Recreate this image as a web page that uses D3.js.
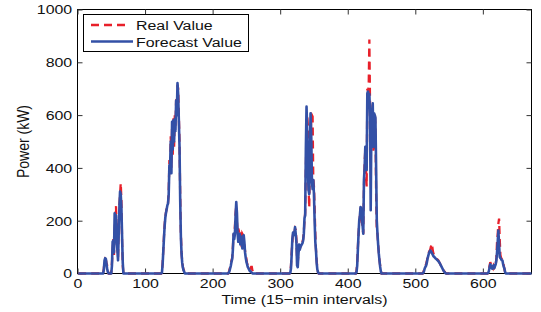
<!DOCTYPE html>
<html>
<head>
<meta charset="utf-8">
<script src="https://cdn.jsdelivr.net/npm/d3@7"></script>
<style>
body { margin: 0; background: #fff; }
text { font-family: "Liberation Sans", Arial, Helvetica, sans-serif; fill: #111; }
</style>
</head>
<body>
<div id="chart"></div>
<script>
var numOfPoints = 672
var xTicks = [0, 100, 200, 300, 400, 500, 600]
var yTicks = [0, 200, 400, 600, 800, 1000]
var legendLabels = ["Real Value", "Forecast Value"]

// index of the first sample of each daylight run, values are 0 outside these runs
var dayStarts = [38, 124, 223, 314, 412, 511, 607]

var realDay1 = [0,20,45,55,52,40,30,10,0,0,0,0,5,40,90,130,70,170,210,255,150,100,60,180,260,300,342,280,120,30,0]
var forecastDay1 = [0,15,50,58,55,35,15,5,0,0,0,0,0,30,120,125,80,228,190,220,120,90,50,150,250,310,300,250,140,40,0]

var realDay2 = [0,5,40,90,140,185,215,232,245,255,268,310,430,380,520,400,560,450,590,480,600,560,660,620,715,700,600,500,300,150,80,45,25,14,8,0]
var forecastDay2 = [0,3,35,85,135,180,212,230,243,258,265,300,410,400,500,380,575,470,580,500,585,540,655,600,721,680,580,480,280,140,75,40,22,12,6,0]

var realDay3 = [0,5,15,25,35,50,60,100,150,140,180,230,255,200,150,170,160,130,140,165,100,150,145,135,110,85,70,55,40,30,25,20,15,20,25,25,10,0]
var forecastDay3 = [0,3,10,20,30,45,55,90,150,130,150,220,271,230,150,120,140,150,110,140,130,95,140,145,120,80,60,45,35,25,20,15,10,8,5,3,0,0]

var realDay4 = [0,5,30,80,120,150,140,155,170,165,130,60,40,80,100,95,100,110,115,120,130,160,200,230,400,520,600,560,330,250,420,500,590,600,595,360,330,250,150,90,50,20,5,0]
var forecastDay4 = [0,3,20,70,130,155,145,150,176,150,120,30,24,70,110,90,100,105,110,115,125,150,210,220,470,632,540,400,316,300,480,607,520,347,320,354,300,200,120,87,40,15,5,0]

var realDay5 = [0,10,40,100,150,190,215,250,240,200,170,150,330,420,470,400,330,700,690,710,886,650,420,580,560,640,460,600,610,560,300,160,150,110,80,50,30,10,0]
var forecastDay5 = [0,5,30,90,150,200,220,252,245,214,180,151,354,400,480,430,392,683,689,640,680,600,240,560,600,645,480,607,600,590,400,200,151,110,75,49,25,8,0]

var realDay6 = [0,5,15,25,30,35,45,60,70,80,85,90,100,113,105,85,75,70,65,60,58,55,52,50,45,40,35,30,25,20,15,10,8,5,2,0]
var forecastDay6 = [0,3,10,20,25,30,40,55,65,75,82,87,85,80,75,70,65,63,60,57,55,52,50,47,44,40,35,30,25,20,15,10,6,3,0,0]

var realDay7 = [0,5,15,30,43,35,40,25,20,30,25,35,30,60,120,150,190,208,130,70,60,55,50,45,30,15,5,0]
var forecastDay7 = [0,3,10,24,35,30,22,18,25,31,20,28,35,50,80,120,163,110,63,58,55,50,49,35,25,18,5,0]

var realDays = [realDay1, realDay2, realDay3, realDay4, realDay5, realDay6, realDay7]
var forecastDays = [forecastDay1, forecastDay2, forecastDay3, forecastDay4, forecastDay5, forecastDay6, forecastDay7]

var width = 541,
    height = 312,
    sx = 1.18   // the reference text is a little wider than it is tall

function buildSeries(days) {
    var out = []
    for (var t = 1; t <= numOfPoints; t++) out.push({t: t, v: 0})
    days.forEach(function (vals, k) {
        vals.forEach(function (v, i) {
            var t = dayStarts[k] + i
            if (t >= 1 && t <= numOfPoints) out[t - 1].v = v
        })
    })
    return out
}

var realSeries = buildSeries(realDays)
var forecastSeries = buildSeries(forecastDays)

var svg = d3.select('#chart').append('svg')
    .attr('width', width)
    .attr('height', height)

var x = d3.scaleLinear()
    .domain([0, numOfPoints])
    .range([77.5, 531.5])

var y = d3.scaleLinear()
    .domain([0, 1000])
    .range([273.5, 9.5])

var line = d3.line()
    .x(function (d) { return x(d.t) })
    .y(function (d) { return y(d.v) })

// box
svg.append('rect')
    .attr('x', x(0))
    .attr('y', y(1000))
    .attr('width', x(numOfPoints) - x(0))
    .attr('height', y(0) - y(1000))
    .attr('fill', 'none')
    .attr('stroke', '#000')
    .attr('stroke-width', 1)

// axes, ticks pointing inward on all four sides
var fmt = d3.format('d')
var gx = svg.append('g')
    .attr('transform', 'translate(0,' + y(0) + ')')
    .call(d3.axisBottom(x).tickValues(xTicks).tickFormat(fmt).tickSizeInner(-5).tickSizeOuter(0).tickPadding(5))
var gy = svg.append('g')
    .attr('transform', 'translate(' + x(0) + ',0)')
    .call(d3.axisLeft(y).tickValues(yTicks).tickFormat(fmt).tickSizeInner(-5).tickSizeOuter(0).tickPadding(4.5))
var gt = svg.append('g')
    .attr('transform', 'translate(0,' + y(1000) + ')')
    .call(d3.axisTop(x).tickValues(xTicks).tickSizeInner(-5).tickSizeOuter(0).tickFormat(''))
var gr = svg.append('g')
    .attr('transform', 'translate(' + x(numOfPoints) + ',0)')
    .call(d3.axisRight(y).tickValues(yTicks).tickSizeInner(-5).tickSizeOuter(0).tickFormat(''))

;[gx, gy, gt, gr].forEach(function (g) {
    g.select('.domain').remove()
    g.selectAll('.tick line').attr('stroke', '#333')
    g.selectAll('.tick text')
        .attr('font-family', '"Liberation Sans", Arial, sans-serif')
        .attr('font-size', 13.5)
        .attr('fill', '#111')
        .attr('transform', 'scale(' + sx + ',1)')
})

// series: real first, forecast drawn over it
svg.append('path')
    .datum(realSeries)
    .attr('d', line)
    .attr('fill', 'none')
    .attr('stroke', '#e8202a')
    .attr('stroke-width', 2.3)
    .attr('stroke-dasharray', '8,5')

svg.append('path')
    .datum(forecastSeries)
    .attr('d', line)
    .attr('fill', 'none')
    .attr('stroke', '#3350a6')
    .attr('stroke-width', 2.6)
    .attr('stroke-linejoin', 'round')

// axis labels
svg.append('text')
    .attr('transform', 'translate(' + ((x(0) + x(numOfPoints)) / 2) + ',304) scale(' + sx + ',1)')
    .attr('text-anchor', 'middle')
    .attr('font-size', 13.5)
    .text('Time (15\u2212min intervals)')

svg.append('text')
    .attr('transform', 'translate(29,' + ((y(0) + y(1000)) / 2) + ') rotate(-90) scale(1,' + sx + ')')
    .attr('text-anchor', 'middle')
    .attr('font-size', 14)
    .text('Power (kW)')

// legend
var legend = svg.append('g')
legend.append('rect')
    .attr('x', 83.5).attr('y', 14.5)
    .attr('width', 165).attr('height', 37)
    .attr('fill', '#fff')
    .attr('stroke', '#000')

var legendStyles = [
    {color: '#e8202a', dash: '8,5', w: 2.3, x2: 129},
    {color: '#3350a6', dash: null, w: 2.6, x2: 133}
]
legendLabels.forEach(function (label, i) {
    var ly = 25 + i * 16.5
    legend.append('line')
        .attr('x1', 91).attr('x2', legendStyles[i].x2)
        .attr('y1', ly).attr('y2', ly)
        .attr('stroke', legendStyles[i].color)
        .attr('stroke-width', legendStyles[i].w)
        .attr('stroke-dasharray', legendStyles[i].dash)
    legend.append('text')
        .attr('transform', 'translate(136,' + (ly + 5) + ') scale(' + sx + ',1)')
        .attr('font-size', 13.5)
        .text(label)
})
</script>
</body>
</html>
